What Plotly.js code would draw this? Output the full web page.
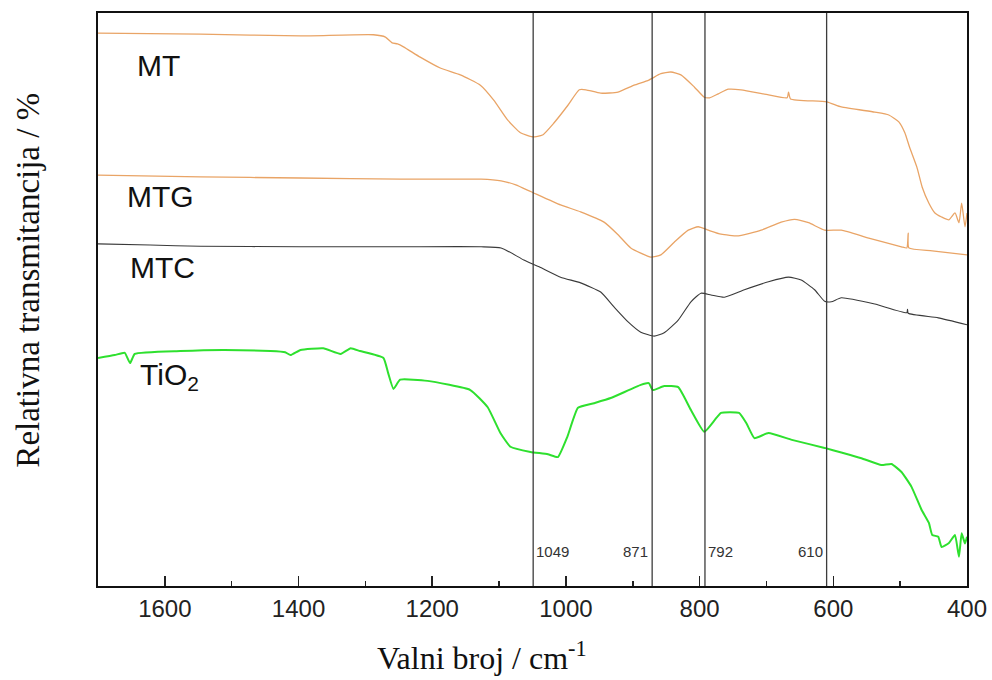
<!DOCTYPE html>
<html>
<head>
<meta charset="utf-8">
<script src="https://cdn.plot.ly/plotly-3.0.1.min.js"></script>
<style>html,body{margin:0;padding:0;background:#fff;}#chart{width:992px;height:680px;}</style>
</head>
<body>
<div id="chart"></div>
<script>
// Wavenumber (cm-1) and relative transmittance (arbitrary units, offset series)
const mtX = [1700,1547,1397,1288,1270,1260,1252,1243,1218,1188,1158,1128,1108,1087,1068,1050,1035,1018,997,980,970,948,922,898,876,858,843,828,808,793,785,772,757,738,697,669,667,664,610,588,538,517,502,493,486,475,467,457,448,438,427,418,412,408,403,400];
const mtY = [96.5,96.3,96.0,96.2,95.8,94.8,94.6,94.1,92.3,90.4,89.2,87.4,84.8,81.3,79.1,78.4,78.7,80.8,83.9,86.6,86.6,86.0,86.2,87.4,88.3,89.4,89.7,89.2,87.1,85.3,85.2,85.9,86.7,86.6,85.7,85.2,86.2,85.0,84.5,83.6,82.7,82.2,81.0,79.1,76.6,73.1,69.6,66.8,65.1,64.4,63.9,65.1,63.4,66.8,62.7,65.1];

const mtgX = [1700,1547,1397,1247,1127,1097,1075,1052,1008,978,943,922,903,873,858,838,817,802,787,768,742,708,678,658,637,613,588,547,498,490,488,487,452,400];
const mtgY = [71.7,71.4,71.2,71.0,71.0,70.7,70.0,68.8,66.5,65.3,63.5,61.3,59.0,57.4,57.8,60.0,62.1,62.7,62.1,61.4,61.1,62.1,63.5,64.0,63.4,62.1,62.1,60.7,59.2,59.0,61.6,59.0,58.5,57.8];

const mtcX = [1700,1622,1547,1397,1247,1127,1097,1063,1040,1008,978,948,928,907,888,868,853,832,813,798,783,763,733,697,667,648,628,613,603,588,538,490,489,488,443,400];
const mtcY = [59.7,59.5,59.3,59.2,59.2,59.2,59.0,56.9,55.7,53.9,52.9,51.3,48.7,46.1,44.3,43.6,44.2,46.4,49.6,51.1,50.8,50.4,51.7,53.1,53.9,53.4,51.7,49.7,49.6,50.3,49.2,47.7,48.3,47.6,46.8,45.6];

const tioX = [1700,1675,1660,1652,1645,1577,1513,1442,1420,1412,1397,1363,1337,1322,1308,1273,1266,1258,1248,1207,1143,1117,1098,1083,1053,1027,1012,998,982,958,933,888,876,870,853,832,813,793,768,741,730,718,697,662,613,588,558,528,513,498,483,468,457,452,443,438,427,418,412,408,403,400];
const tioY = [39.8,40.3,40.7,38.9,40.5,41.0,41.2,41.0,40.8,40.3,41.2,41.5,40.5,41.5,41.0,39.8,37.2,34.4,36.0,35.8,34.2,31.2,26.7,24.3,23.4,23.0,22.5,26.0,31.1,31.9,32.8,35.1,35.4,34.2,34.9,34.7,30.7,26.9,30.2,30.2,28.4,25.8,26.7,25.5,24.1,23.3,22.3,21.1,21.3,19.9,17.3,13.3,11.0,8.9,8.6,6.8,7.5,8.9,5.1,9.2,7.4,8.6];

const peaks = [1049, 871, 792, 610];
const peakLabels = ["1049", "871", "792", "610"];
const peakSide = ["right", "left", "right", "left"];

const seriesNames = ["MT", "MTG", "MTC", "TiO<sub>2</sub>"];
const labelX = [1645, 1660, 1655, 1640];
const labelY = [90.9, 67.9, 55.5, 36.6];

const traces = [
  {x: mtX, y: mtY, mode: 'lines', line: {color: '#e9a466', width: 1.3, shape: 'spline', smoothing: 0.5}, name: 'MT'},
  {x: mtgX, y: mtgY, mode: 'lines', line: {color: '#e9a466', width: 1.3, shape: 'spline', smoothing: 0.5}, name: 'MTG'},
  {x: mtcX, y: mtcY, mode: 'lines', line: {color: '#3a3a3a', width: 1.1, shape: 'spline', smoothing: 0.5}, name: 'MTC'},
  {x: tioX, y: tioY, mode: 'lines', line: {color: '#2ee02e', width: 2, shape: 'spline', smoothing: 0.4}, name: 'TiO2'}
];

const shapes = peaks.map(p => ({
  type: 'line', xref: 'x', yref: 'paper', x0: p, x1: p, y0: 0, y1: 1,
  line: {color: '#3c3c3c', width: 1.3}
}));

const annotations = [];
seriesNames.forEach((n, i) => annotations.push({
  text: n, x: labelX[i], y: labelY[i], xref: 'x', yref: 'y',
  xanchor: 'left', yanchor: 'middle', showarrow: false,
  font: {family: 'Liberation Sans, Arial, sans-serif', size: 30, color: '#111'}
}));
peaks.forEach((p, i) => annotations.push({
  text: peakLabels[i], x: p, y: 6.1, xref: 'x', yref: 'y',
  xanchor: peakSide[i] === 'right' ? 'left' : 'right', yanchor: 'middle',
  xshift: peakSide[i] === 'right' ? 1 : -2, showarrow: false,
  font: {family: 'Liberation Sans, Arial, sans-serif', size: 15, color: '#333'}
}));
annotations.push({
  text: 'Valni broj / cm<sup>-1</sup>', xref: 'paper', yref: 'paper',
  x: 0.442, y: -0.123, xanchor: 'center', yanchor: 'middle', showarrow: false,
  font: {family: 'Liberation Serif, Times New Roman, serif', size: 32, color: '#111'}
});
annotations.push({
  text: 'Relativna transmitancija / %', xref: 'paper', yref: 'paper',
  x: -0.081, y: 0.534, xanchor: 'center', yanchor: 'middle', textangle: -90, showarrow: false,
  font: {family: 'Liberation Serif, Times New Roman, serif', size: 33, color: '#111'}
});

const layout = {
  width: 992, height: 680,
  margin: {l: 98, r: 25, t: 13, b: 94},
  paper_bgcolor: '#fff', plot_bgcolor: '#fff',
  showlegend: false,
  xaxis: {
    range: [1700, 400], tick0: 400, dtick: 200,
    ticks: 'inside', ticklen: 10, tickwidth: 1.5, tickcolor: '#222',
    minor: {dtick: 100, ticks: 'inside', ticklen: 5, tickwidth: 1.5, tickcolor: '#222'},
    showline: true, linecolor: '#111', linewidth: 2, mirror: true,
    showgrid: false, zeroline: false,
    tickfont: {family: 'Liberation Sans, Arial, sans-serif', size: 24, color: '#222'}
  },
  yaxis: {
    range: [0, 100], showticklabels: false, ticks: '',
    showline: true, linecolor: '#111', linewidth: 2, mirror: true,
    showgrid: false, zeroline: false
  },
  shapes: shapes,
  annotations: annotations
};

Plotly.newPlot('chart', traces, layout, {staticPlot: true, displayModeBar: false});
</script>
</body>
</html>
